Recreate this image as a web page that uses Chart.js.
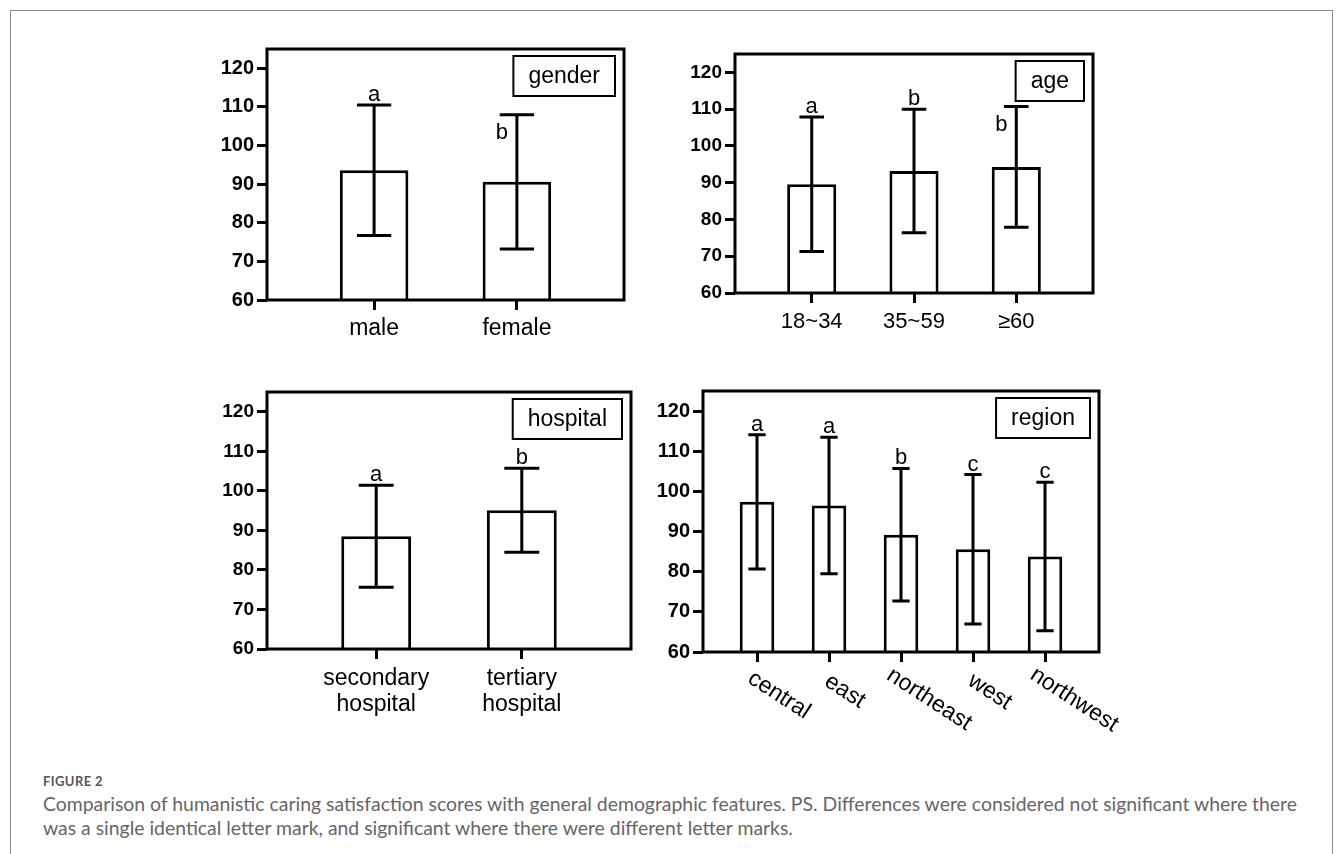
<!DOCTYPE html>
<html>
<head>
<meta charset="utf-8">
<script src="https://cdn.jsdelivr.net/npm/chart.js@4.4.1/dist/chart.umd.min.js"></script>
<style>
  html, body { margin: 0; padding: 0; background: #fff; overflow: hidden; }
  #page { position: relative; width: 1338px; height: 854px; overflow: hidden; }
  #frame { position: absolute; left: 10px; top: 10px; width: 1321px; height: 900px; border: 1px solid #8c8c8c; }
  .panel { position: absolute; }
  #figlabel { position: absolute; left: 43px; top: 773px; font: 700 13px Lato, sans-serif; color: #555; letter-spacing: 0.4px; }
  #caption { position: absolute; left: 43px; top: 792px; font: 19.4px Lato, sans-serif; color: #666; line-height: 24px; white-space: nowrap; }
</style>
</head>
<body>
<div id="page">
  <div id="frame"></div>
  <canvas class="panel" id="pGender"></canvas>
  <canvas class="panel" id="pAge"></canvas>
  <canvas class="panel" id="pHospital"></canvas>
  <canvas class="panel" id="pRegion"></canvas>
  <div id="figlabel">FIGURE 2</div>
  <div id="caption">Comparison of humanistic caring satisfaction scores with general demographic features. PS. Differences were considered not significant where there<br>was a single identical letter mark, and significant where there were different letter marks.</div>
</div>
<script>
const AXIS_FONT = "'Liberation Sans', Arial, sans-serif";
Chart.defaults.color = "#000";

/* ---------- data ---------- */
const yTicks = [60, 70, 80, 90, 100, 110, 120];

const genderCats = ["male", "female"];
const genderMeans = [93.6, 90.6];
const genderSD = [16.9, 17.4];
const genderLetters = ["a", "b"];
const genderLetterSide = ["top", "left"];

const ageCats = ["18~34", "35~59", "≥60"];
const ageMeans = [89.6, 93.2, 94.3];
const ageSD = [18.3, 16.8, 16.4];
const ageLetters = ["a", "b", "b"];
const ageLetterSide = ["top", "top", "left"];

const hospitalCats = [["secondary", "hospital"], ["tertiary", "hospital"]];
const hospitalMeans = [88.5, 95.1];
const hospitalSD = [12.9, 10.6];
const hospitalLetters = ["a", "b"];
const hospitalLetterSide = ["top", "top"];

const regionCats = ["central", "east", "northeast", "west", "northwest"];
const regionMeans = [97.4, 96.5, 89.2, 85.6, 83.8];
const regionSD = [16.7, 17.0, 16.5, 18.6, 18.5];
const regionLetters = ["a", "a", "b", "c", "c"];
const regionLetterSide = ["top", "top", "top", "top", "top"];

/* ---------- one panel = one chart ---------- */
function makePanel(id, box, cats, means, sds, letters, sides, title, o) {
  const cv = document.getElementById(id);
  cv.width = box.r - box.l + 90;
  cv.height = box.b - box.t + 130;
  cv.style.left = (box.l - 70) + "px";
  cv.style.top = (box.t - 20) + "px";
  const n = cats.length;

  const decor = {
    id: "decor_" + id,
    afterDatasetsDraw(chart) {
      const { ctx, chartArea: a, scales: { x, y } } = chart;
      const bw = chart.getDatasetMeta(0).data[0].width;
      ctx.save();
      ctx.strokeStyle = "#000";
      ctx.fillStyle = "#000";
      ctx.lineWidth = 3;
      ctx.lineCap = "butt";

      // error bars + letter marks
      means.forEach((m, i) => {
        const px = x.getPixelForValue(i);
        const hi = y.getPixelForValue(m + sds[i]);
        const lo = y.getPixelForValue(m - sds[i]);
        const cap = bw / 4;
        ctx.beginPath();
        ctx.moveTo(px, hi); ctx.lineTo(px, lo);
        ctx.moveTo(px - cap, hi); ctx.lineTo(px + cap, hi);
        ctx.moveTo(px - cap, lo); ctx.lineTo(px + cap, lo);
        ctx.stroke();

        ctx.font = "22px " + AXIS_FONT;
        ctx.textAlign = "center";
        ctx.textBaseline = "alphabetic";
        if (sides[i] === "left") ctx.fillText(letters[i], px - 15, hi + 24);
        else ctx.fillText(letters[i], px, hi - 4);
      });

      // plot frame
      ctx.strokeRect(a.left, a.top, a.right - a.left, a.bottom - a.top);

      // group name box
      ctx.font = "23px " + AXIS_FONT;
      const tw = ctx.measureText(title).width + 30;
      const bx = a.right - 9 - tw, by = a.top + 7;
      ctx.lineWidth = 2;
      ctx.strokeRect(bx, by, tw, 40);
      ctx.textAlign = "center";
      ctx.textBaseline = "middle";
      ctx.fillText(title, bx + tw / 2, by + 21);

      // slanted category labels (text runs down to the right)
      if (o.rotate) {
        const ang = o.rotate * Math.PI / 180;
        ctx.font = o.xFont + "px " + AXIS_FONT;
        ctx.textAlign = "left";
        ctx.textBaseline = "top";
        cats.forEach((c, i) => {
          const w = ctx.measureText(c).width * 0.22;
          ctx.save();
          ctx.translate(x.getPixelForValue(i) + 12 - w * Math.cos(ang), a.bottom + 23 - w * Math.sin(ang));
          ctx.rotate(ang);
          ctx.fillText(c, 0, 0);
          ctx.restore();
        });
      }
      ctx.restore();
    }
  };

  const tickGrid = { display: true, offset: false, drawOnChartArea: false, drawTicks: true, tickLength: 10, lineWidth: 3, color: "#000" };

  return new Chart(cv, {
    type: "bar",
    data: {
      datasets: [{
        data: means.map((m, i) => ({ x: i, y: m })),
        backgroundColor: "#fff",
        borderColor: "#000",
        borderWidth: 3,
        barPercentage: 0.6,
        categoryPercentage: 0.8
      }]
    },
    options: {
      responsive: false,
      animation: false,
      events: [],
      layout: { padding: { top: 20, right: 20, left: 0, bottom: 0 } },
      plugins: { legend: { display: false }, tooltip: { enabled: false } },
      scales: {
        x: {
          type: "linear",
          min: -0.75,
          max: n - 0.25,
          offset: false,
          afterBuildTicks: s => { s.ticks = cats.map((_, i) => ({ value: i })); },
          afterFit: s => { s.height = 110; },
          grid: tickGrid,
          border: { display: false },
          ticks: {
            autoSkip: false, maxRotation: 0, minRotation: 0, padding: o.xPad,
            color: "#000",
            font: { family: AXIS_FONT, size: o.xFont, lineHeight: 1.15 },
            callback: v => (o.rotate ? "" : cats[v])
          }
        },
        y: {
          min: 60,
          max: 125,
          afterBuildTicks: s => { s.ticks = yTicks.map(v => ({ value: v })); },
          afterFit: s => { s.width = 70; },
          grid: tickGrid,
          border: { display: false },
          ticks: { padding: 3, color: "#000", font: { family: AXIS_FONT, size: o.yFont, weight: 700 } }
        }
      }
    },
    plugins: [decor]
  });
}

makePanel("pGender", { l: 267, t: 49, r: 624, b: 300 }, genderCats, genderMeans, genderSD,
  genderLetters, genderLetterSide, "gender", { yFont: 20, xFont: 23, xPad: 5 });
makePanel("pAge", { l: 735, t: 54, r: 1093, b: 293 }, ageCats, ageMeans, ageSD,
  ageLetters, ageLetterSide, "age", { yFont: 19, xFont: 22, xPad: 6 });
makePanel("pHospital", { l: 267, t: 392, r: 631, b: 649 }, hospitalCats, hospitalMeans, hospitalSD,
  hospitalLetters, hospitalLetterSide, "hospital", { yFont: 19, xFont: 23, xPad: 6 });
makePanel("pRegion", { l: 703, t: 391, r: 1099, b: 652 }, regionCats, regionMeans, regionSD,
  regionLetters, regionLetterSide, "region", { yFont: 20, xFont: 23, xPad: 6, rotate: 33 });
</script>
</body>
</html>
